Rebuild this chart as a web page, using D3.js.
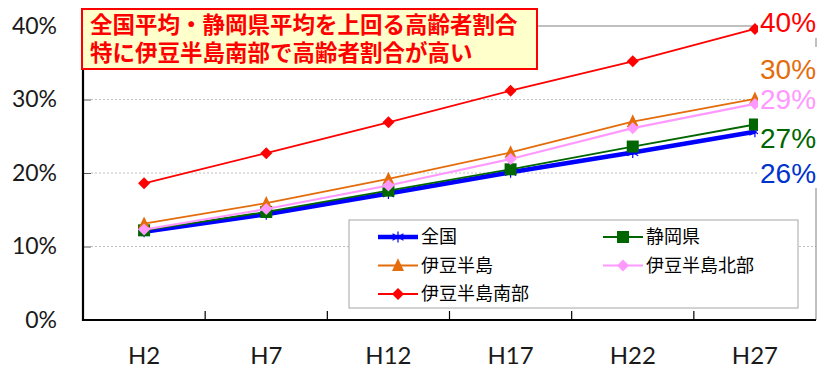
<!DOCTYPE html>
<html>
<head>
<meta charset="utf-8">
<script src="https://cdn.jsdelivr.net/npm/d3@7"></script>
<style>
  html, body { margin: 0; padding: 0; background: #fff; }
  svg { display: block; }
</style>
</head>
<body>
<svg id="chart" width="823" height="372"></svg>
<script>
// Census years (Heisei era)
const categories = ["H2", "H7", "H12", "H17", "H22", "H27"];

// Share of population aged 65+ (%)
const seriesNames = ["全国", "静岡県", "伊豆半島", "伊豆半島北部", "伊豆半島南部"];
const zenkoku  = [12.0, 14.4, 17.2, 20.1, 22.8, 25.6];
const shizuoka = [12.2, 14.7, 17.6, 20.5, 23.6, 26.6];
const izu      = [13.1, 15.9, 19.2, 22.8, 27.0, 30.1];
const izuNorth = [12.3, 15.1, 18.3, 21.9, 26.1, 29.4];
const izuSouth = [18.6, 22.7, 26.9, 31.2, 35.2, 39.6];

const yTicks = [0, 10, 20, 30, 40];
const titleLines = ["全国平均・静岡県平均を上回る高齢者割合", "特に伊豆半島南部で高齢者割合が高い"];

const series = [
  { name: seriesNames[0], values: zenkoku,  color: "#0000ff", width: 4.5, marker: "star" },
  { name: seriesNames[1], values: shizuoka, color: "#006600", width: 1.8, marker: "square" },
  { name: seriesNames[2], values: izu,      color: "#e46c0a", width: 1.8, marker: "triangle" },
  { name: seriesNames[3], values: izuNorth, color: "#ff99ff", width: 2.2, marker: "diamond" },
  { name: seriesNames[4], values: izuSouth, color: "#ff0000", width: 1.8, marker: "diamond" }
];
const endLabelColors = ["#0033cc", "#006600", "#e46c0a", "#ff99ff", "#ff0000"];

const svg = d3.select("#chart");
const plotLeft = 83, plotRight = 816, plotTop = 26, plotBottom = 320;

const x = d3.scaleBand().domain(categories).range([plotLeft, plotRight]).padding(0);
const cx = c => x(c) + x.bandwidth() / 2;
const y = d3.scaleLinear().domain([0, 40]).range([plotBottom, plotTop]);

const numFont = "Lato, 'Liberation Sans', sans-serif";
const jpFont = "'Noto Sans CJK JP', sans-serif";
const headFont = "'Liberation Sans', 'Noto Sans CJK JP', sans-serif";

// gridlines
svg.append("g").selectAll("line").data([10, 20, 30]).join("line")
  .attr("x1", plotLeft + 8).attr("x2", plotRight)
  .attr("y1", d => y(d)).attr("y2", d => y(d))
  .attr("stroke", "#bfbfbf").attr("stroke-width", 1).attr("stroke-dasharray", "2,2");

// plot border (top + right)
svg.append("line").attr("x1", plotLeft).attr("x2", plotRight).attr("y1", y(40)).attr("y2", y(40))
  .attr("stroke", "#808080").attr("stroke-width", 1);
svg.append("line").attr("x1", plotRight).attr("x2", plotRight).attr("y1", y(40)).attr("y2", plotBottom)
  .attr("stroke", "#808080").attr("stroke-width", 1);

// y axis
const yAxis = svg.append("g").attr("transform", `translate(${plotLeft},0)`)
  .call(d3.axisLeft(y).tickValues(yTicks).tickSize(-8).tickPadding(26).tickFormat(d => d + "%"));
yAxis.select(".domain").remove();
yAxis.selectAll(".tick line").attr("stroke", "#595959");
yAxis.selectAll(".tick text").attr("font-family", numFont).attr("font-size", 23).attr("fill", "#1a1a1a");
svg.append("line").attr("x1", plotLeft).attr("x2", plotLeft).attr("y1", y(40)).attr("y2", plotBottom + 1)
  .attr("stroke", "#000").attr("stroke-width", 2.2);

// x axis
svg.append("line").attr("x1", plotLeft - 1).attr("x2", plotRight).attr("y1", plotBottom).attr("y2", plotBottom)
  .attr("stroke", "#000").attr("stroke-width", 2.2);
svg.append("g").selectAll("line").data(categories.slice(1)).join("line")
  .attr("x1", d => x(d)).attr("x2", d => x(d))
  .attr("y1", plotBottom - 9).attr("y2", plotBottom)
  .attr("stroke", "#000").attr("stroke-width", 1.2);
const xAxis = svg.append("g").attr("transform", `translate(0,${plotBottom})`)
  .call(d3.axisBottom(x).tickSize(0).tickPadding(27));
xAxis.select(".domain").remove();
xAxis.selectAll(".tick text").attr("font-family", numFont).attr("font-size", 24).attr("fill", "#1a1a1a");

// marker shapes
function drawMarker(g, type, color, px, py, s) {
  if (type === "square") {
    g.append("rect").attr("x", px - s / 2).attr("y", py - s / 2).attr("width", s).attr("height", s)
      .attr("fill", color);
  } else if (type === "triangle") {
    const h = s;
    g.append("path").attr("d", `M${px},${py - h * 0.6}L${px + s / 2},${py + h * 0.45}L${px - s / 2},${py + h * 0.45}Z`)
      .attr("fill", color);
  } else if (type === "diamond") {
    const r = s / 2;
    g.append("path").attr("d", `M${px},${py - r}L${px + r},${py}L${px},${py + r}L${px - r},${py}Z`)
      .attr("fill", color);
  } else if (type === "star") {
    const r = s / 2;
    g.append("path")
      .attr("d", `M${px},${py - r}L${px},${py + r}M${px - r},${py - r * 0.6}L${px + r},${py + r * 0.6}M${px - r},${py + r * 0.6}L${px + r},${py - r * 0.6}`)
      .attr("stroke", color).attr("stroke-width", 1.2).attr("fill", "none");
  }
}
const markerSize = { star: 11, square: 12, triangle: 12, diamond: 12 };

// series lines and markers
const line = d3.line().x((d, i) => cx(categories[i])).y(d => y(d));
series.forEach(s => {
  const g = svg.append("g");
  g.append("path").datum(s.values).attr("d", line)
    .attr("fill", "none").attr("stroke", s.color).attr("stroke-width", s.width)
    .attr("stroke-linejoin", "round");
  s.values.forEach((v, i) => drawMarker(g, s.marker, s.color, cx(categories[i]), y(v), markerSize[s.marker]));
});

// white backing for end labels
svg.append("rect").attr("x", 758).attr("y", 0).attr("width", 65).attr("height", 38).attr("fill", "#fff");
svg.append("rect").attr("x", 758).attr("y", 47).attr("width", 65).attr("height", 141).attr("fill", "#fff");

// end-of-line value labels
const endBaselines = [183, 148, 79, 109, 32];
series.forEach((s, i) => {
  svg.append("text").attr("x", 760).attr("y", endBaselines[i])
    .attr("font-family", "'Liberation Sans', Arial, sans-serif").attr("font-size", 28)
    .attr("fill", endLabelColors[i])
    .text(Math.round(s.values[s.values.length - 1]) + "%");
});

// headline box: two lines in one text block
svg.append("rect").attr("x", 82).attr("y", 9).attr("width", 455).attr("height", 60)
  .attr("fill", "#ffffcc").attr("stroke", "#ff0000").attr("stroke-width", 2);
const headline = svg.append("text")
  .attr("font-family", headFont).attr("font-weight", "bold").attr("font-size", 22.5)
  .attr("fill", "#ff0000");
titleLines.forEach((t, i) => {
  headline.append("tspan").attr("x", 90).attr("y", 33 + i * 28).text(t);
});

// legend
svg.append("rect").attr("x", 349).attr("y", 220).attr("width", 449).attr("height", 88)
  .attr("fill", "#fff").attr("stroke", "#a6a6a6").attr("stroke-width", 1);
const legendPos = [[378, 237], [603, 237], [378, 265.5], [603, 265.5], [378, 294]];
series.forEach((s, i) => {
  const [lx, ly] = legendPos[i];
  const g = svg.append("g");
  g.append("line").attr("x1", lx).attr("x2", lx + 40).attr("y1", ly).attr("y2", ly)
    .attr("stroke", s.color).attr("stroke-width", s.width);
  drawMarker(g, s.marker, s.color, lx + 20, ly, markerSize[s.marker]);
  g.append("text").attr("x", lx + 43).attr("y", ly).attr("dy", "0.35em")
    .attr("font-family", jpFont).attr("font-size", 18).attr("fill", "#000").text(s.name);
});
</script>
</body>
</html>
